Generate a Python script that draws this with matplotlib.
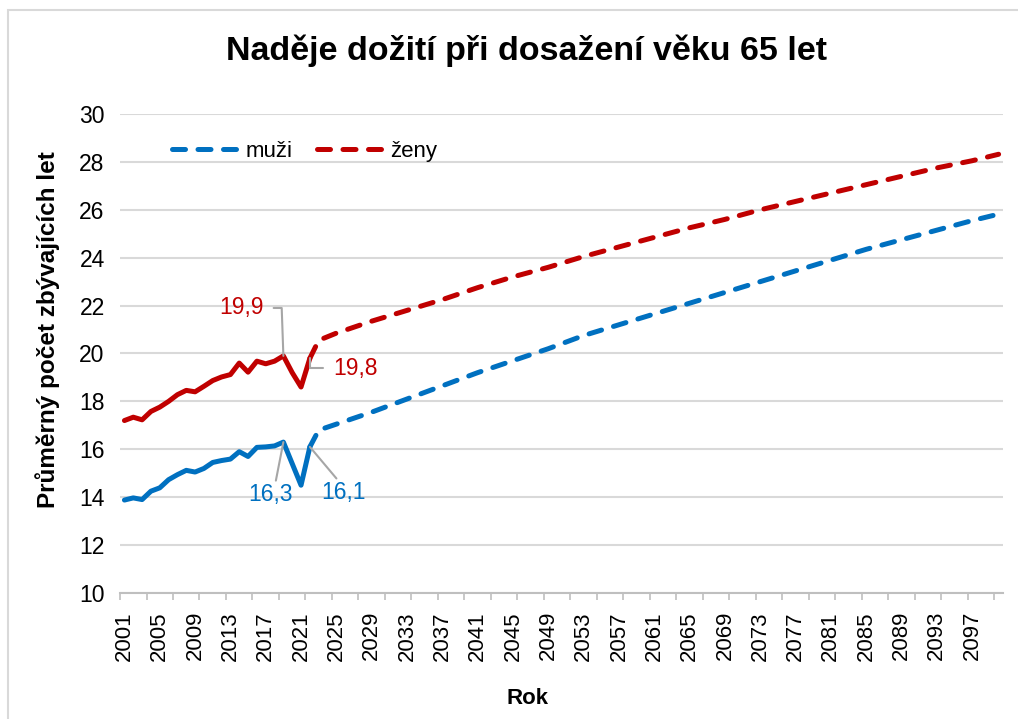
import matplotlib
matplotlib.use("Agg")
import matplotlib.pyplot as plt
from matplotlib.lines import Line2D
from matplotlib.patches import Rectangle

plt.rcParams['font.family'] = ['Liberation Sans', 'DejaVu Sans']

# skutecnost 2001-2022
roky = list(range(2001, 2023))
muzi = [13.88, 13.97, 13.9, 14.25, 14.39, 14.73, 14.94, 15.12, 15.05, 15.2, 15.45,
        15.53, 15.59, 15.9, 15.7, 16.08, 16.1, 16.14, 16.3, 15.4, 14.5, 16.1]
zeny = [17.2, 17.34, 17.23, 17.58, 17.76, 18.0, 18.28, 18.46, 18.4, 18.63, 18.87,
        19.02, 19.12, 19.6, 19.22, 19.68, 19.57, 19.68, 19.9, 19.2, 18.6, 19.8]

# projekce
roky_p = [2022, 2023, 2025, 2029, 2033, 2037, 2041, 2045, 2049, 2053, 2057,
          2061, 2065, 2069, 2073, 2077, 2081, 2085, 2089, 2093, 2097, 2100]
muzi_p = [16.1, 16.8, 17.05, 17.55, 18.1, 18.65, 19.2, 19.7, 20.2, 20.75, 21.2,
          21.65, 22.1, 22.55, 23.0, 23.45, 23.9, 24.35, 24.75, 25.15, 25.55, 25.82]
zeny_p = [19.8, 20.55, 20.85, 21.35, 21.8, 22.25, 22.75, 23.2, 23.6, 24.05, 24.45,
          24.85, 25.25, 25.6, 26.0, 26.35, 26.7, 27.05, 27.4, 27.75, 28.05, 28.32]

modra = '#0070C0'
cervena = '#C00000'
seda = '#A6A6A6'

fig = plt.figure(figsize=(10.18, 7.19), dpi=100)
ax = fig.add_axes([0.1179, 0.1753, 0.8674, 0.6661])

lw = 3.6
ax.plot(roky, muzi, color=modra, lw=lw, solid_capstyle='round', solid_joinstyle='round', zorder=3)
ax.plot(roky, zeny, color=cervena, lw=lw, solid_capstyle='round', solid_joinstyle='round', zorder=3)
ax.plot(roky_p, muzi_p, color=modra, lw=lw, dashes=(2.6, 2.5), dash_capstyle='round', zorder=3)
ax.plot(roky_p, zeny_p, color=cervena, lw=lw, dashes=(2.6, 2.5), dash_capstyle='round', zorder=3)

ax.set_xlim(2000.5, 2100.5)
ax.set_ylim(10, 30)
ax.set_yticks(range(10, 31, 2))
ax.set_xticks(range(2001, 2101, 4))
ax.set_xticklabels([str(r) for r in range(2001, 2101, 4)], rotation=90)
ax.set_xticks([2000.5 + 3 * k for k in range(34)], minor=True)
ax.tick_params(axis='x', which='major', length=0, labelsize=16, pad=13)
ax.tick_params(axis='x', which='minor', length=5, width=1.2, color='#bfbfbf', direction='out')
ax.tick_params(axis='y', length=0, labelsize=16.5, pad=11)

ax.grid(axis='y', color='#d9d9d9', lw=1.5)
ax.set_axisbelow(True)
for s in ['left', 'right', 'top']:
    ax.spines[s].set_visible(False)
ax.spines['bottom'].set_color('#bfbfbf')
ax.spines['bottom'].set_linewidth(1.5)

ax.set_ylabel('Průměrný počet zbývajících let', fontsize=17.5, fontweight='bold')
ax.yaxis.set_label_coords(-0.068, 0.549)
ax.set_xlabel('Rok', fontsize=16, fontweight='bold')
ax.xaxis.set_label_coords(0.462, -0.198)
fig.text(0.517, 0.930, 'Naděje dožití při dosažení věku 65 let', fontsize=24.5, fontweight='bold',
         ha='center', va='center')

h = [Line2D([], [], color=modra, lw=lw, dashes=(2.6, 2.5), dash_capstyle='round'),
     Line2D([], [], color=cervena, lw=lw, dashes=(2.6, 2.5), dash_capstyle='round')]
ax.legend(h, ['muži', 'ženy'], loc='upper left', bbox_to_anchor=(0.036, 0.985), ncol=2,
          frameon=False, fontsize=16, handlelength=2.9, columnspacing=1.1, handletextpad=0.4)

# popisky hodnot
i19 = roky.index(2019)
i22 = roky.index(2022)
ak = dict(arrowstyle='-', color=seda, lw=1.5, shrinkB=0)
ax.annotate(f'{zeny[i19]:.1f}'.replace('.', ','), xy=(2019, zeny[i19]), xytext=(-14, 34.5),
            textcoords='offset points', ha='right', va='center', fontsize=16.5, color=cervena,
            arrowprops=dict(ak, shrinkA=5, relpos=(1, 0.5),
                            connectionstyle='angle,angleA=0,angleB=92,rad=0'))
ax.annotate(f'{zeny[i22]:.1f}'.replace('.', ','), xy=(2022, zeny[i22]), xytext=(16.5, -7),
            textcoords='offset points', ha='left', va='center', fontsize=16.5, color=cervena,
            arrowprops=dict(ak, shrinkA=5, relpos=(0, 0.5),
                            connectionstyle='angle,angleA=180,angleB=90,rad=0'))
ax.annotate(f'{muzi[i19]:.1f}'.replace('.', ','), xy=(2019, muzi[i19]), xytext=(-9, -38),
            textcoords='offset points', ha='center', va='center', fontsize=16.5, color=modra,
            arrowprops=dict(ak, shrinkA=0, relpos=(0.6, 1)))
ax.annotate(f'{muzi[i22]:.1f}'.replace('.', ','), xy=(2022, muzi[i22]), xytext=(24, -33),
            textcoords='offset points', ha='center', va='center', fontsize=16.5, color=modra,
            arrowprops=dict(ak, shrinkA=0, relpos=(0.4, 1)))

fig.patches.append(Rectangle((8 / 1018, -0.01), 1.0, 1 - 10 / 719 + 0.01, transform=fig.transFigure,
                             fill=False, edgecolor='#d9d9d9', lw=1.5))

fig.savefig('out.png', dpi=100)
